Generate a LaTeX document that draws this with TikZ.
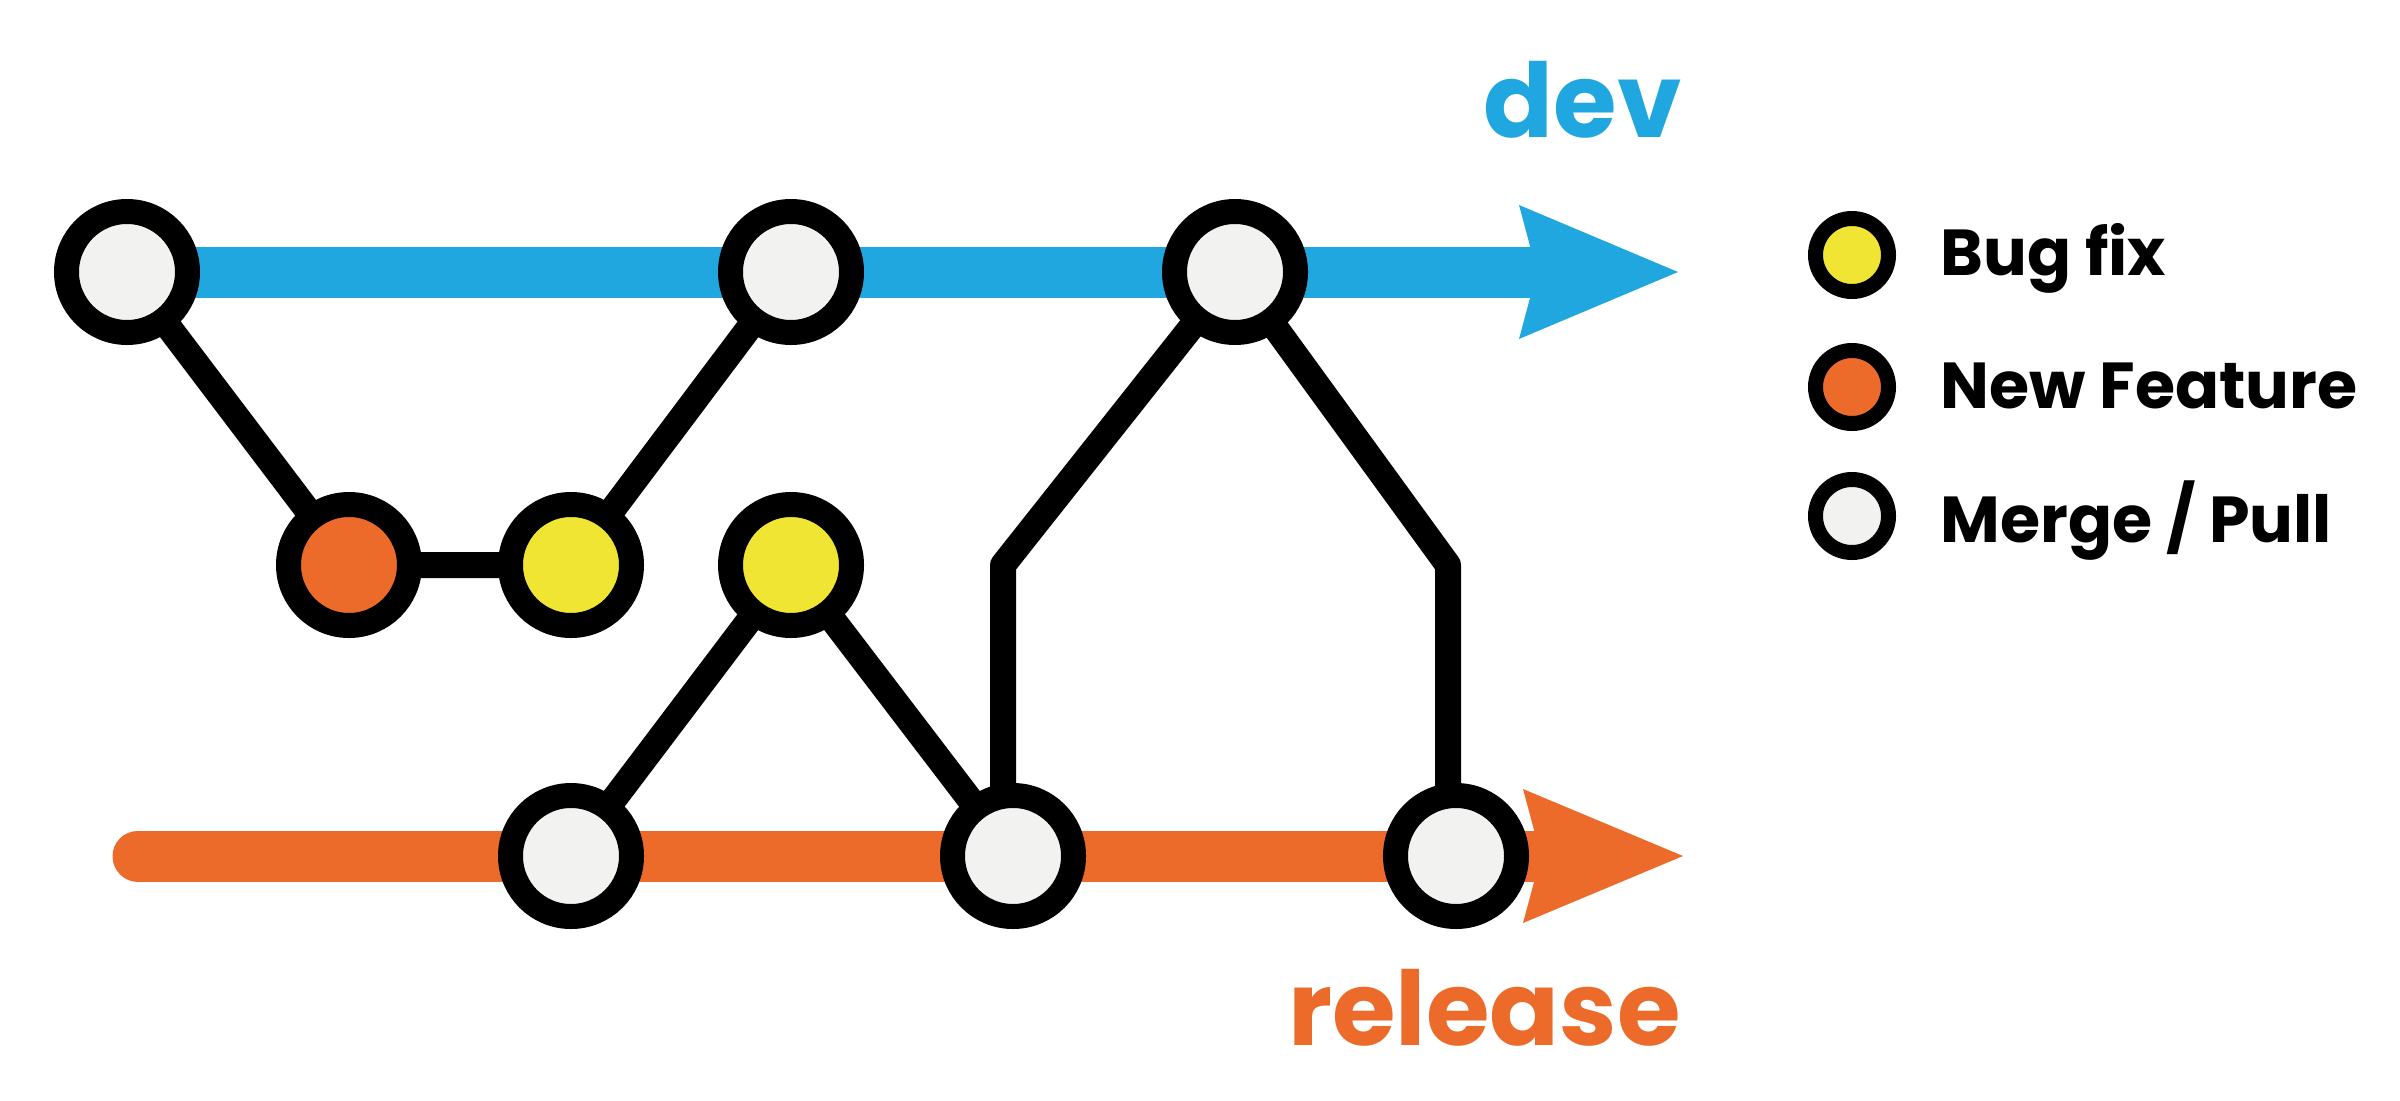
\documentclass[tikz,border=0pt]{standalone}
\usepackage{fontspec}
\setmainfont{Poppins}[Ligatures=NoCommon]
\usetikzlibrary{arrows.meta,positioning,calc}
\definecolor{devblue}{RGB}{33,167,223}
\definecolor{relorange}{RGB}{236,107,43}
\definecolor{bugyellow}{RGB}{240,229,51}
\definecolor{mergegray}{RGB}{242,242,240}
\pgfdeclarelayer{background}
\pgfsetlayers{background,main}

\begin{document}
\begin{tikzpicture}[x=1pt, y=-1pt,
    commit/.style={circle, draw=black, line width=25pt, minimum size=121pt, inner sep=0pt, fill=mergegray},
    bugfix/.style={commit, fill=bugyellow},
    feature/.style={commit, fill=relorange},
    link/.style={line width=26pt, line join=round},
    legendmark/.style={circle, draw=black, line width=15pt, minimum size=73pt, inner sep=0pt},
    legendtext/.style={anchor=base west, font=\bfseries\fontsize{65}{78}\selectfont},
    branchname/.style={anchor=base east, font=\bfseries\fontsize{103}{120}\selectfont}]
    \useasboundingbox (0,0) rectangle (2400,1100);

    % Commits on dev
    \node[commit] (d1) at (127,272) {};
    \node[commit] (d2) at (791,272) {};
    \node[commit] (d3) at (1235,272) {};

    % Feature and bug fix commits
    \node[feature] (f1) at (349,565) {};
    \node[bugfix] (b1) at (571,565) {};
    \node[bugfix] (b2) at (791,565) {};

    % Commits on release
    \node[commit] (r1) at (571,856) {};
    \node[commit] (r2) at (1013,856) {};
    \node[commit] (r3) at (1456,856) {};

    \coordinate (devend) at (1678,272);
    \coordinate (relstart) at (138,856);
    \coordinate (relend) at (1683,856);
    \coordinate (k1) at (1003,565);
    \coordinate (k2) at (1448,565);

    \begin{pgfonlayer}{background}
      % Branches
      \draw[devblue, line width=51pt, -{Stealth[length=159pt, width=134pt, inset=18pt, line width=0pt]}] (d1.center) -- (devend);
      \draw[relorange, line width=51pt, line cap=round, -{Stealth[length=160pt, width=134pt, inset=18pt, line width=0pt]}] (relstart) -- (relend);

      % Links between commits
      \draw[link] (d1.center) -- (f1.center) -- (b1.center) -- (d2.center);
      \draw[link] (r1.center) -- (b2.center) -- (r2.center);
      \draw[link] (k1 |- r2) -- (k1) -- (d3.center);
      \draw[link] (d3.center) -- (k2) -- (k2 |- r3);
    \end{pgfonlayer}

    % Branch names
    \node[branchname, devblue] (devlabel) at (1685,137) {dev};
    \node[branchname, relorange] (rellabel) at (1684,1045) {release};

    % Legend
    \node[legendmark, fill=bugyellow] (l1) at (1852,255) {};
    \node[legendmark, fill=relorange] (l2) at (1852,387) {};
    \node[legendmark, fill=mergegray] (l3) at (1852,516) {};
    \node[legendtext] (t1) at (1937,275) {Bug fix};
    \node[legendtext] (t2) at (1937,408) {New Feature};
    \node[legendtext] (t3) at (1937,542) {Merge / Pull};
\end{tikzpicture}
\end{document}
